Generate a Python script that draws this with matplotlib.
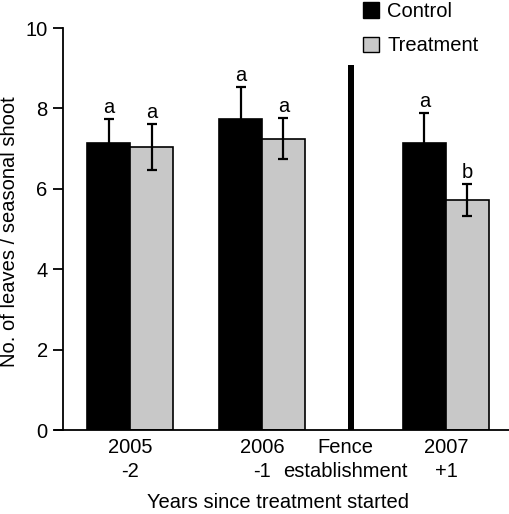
import matplotlib
matplotlib.use("Agg")
import matplotlib.pyplot as plt
from matplotlib.patches import Patch

plt.rcParams['font.family'] = ['Liberation Sans', 'DejaVu Sans']

# Data
groups = ["2005\n-2", "2006\n-1", "2007\n+1"]
group_pos = [1.56, 4.63, 8.91]
control = [7.13, 7.74, 7.13]
control_err = [0.60, 0.79, 0.75]
treatment = [7.04, 7.25, 5.73]
treatment_err = [0.56, 0.50, 0.40]
control_letters = ["a", "a", "a"]
treatment_letters = ["a", "a", "b"]
fence_label = "Fence\nestablishment"
fence_pos = 6.70
fence_label_pos = 6.58
fence_height = 9.08

FS = 14.5
W, H = 510, 514
fig = plt.figure(figsize=(W / 100, H / 100), dpi=100)
ax = fig.add_axes([63 / W, (514 - 430) / H, (510 - 63) / W, (430 - 28) / H])

bw = 1.0
cx = [p - bw / 2 for p in group_pos]
tx = [p + bw / 2 for p in group_pos]
ax.bar(cx, control, width=bw, color="black", edgecolor="black", linewidth=1.2, zorder=2)
ax.bar(tx, treatment, width=bw, color="#c8c8c8", edgecolor="black", linewidth=1.2, zorder=2)
ax.errorbar(cx, control, yerr=control_err, fmt="none", ecolor="black",
            elinewidth=1.6, capsize=3.4, capthick=1.6, zorder=3)
ax.errorbar(tx, treatment, yerr=treatment_err, fmt="none", ecolor="black",
            elinewidth=1.6, capsize=3.4, capthick=1.6, zorder=3)

for x, v, e, t in zip(cx, control, control_err, control_letters):
    ax.text(x, v + e + 0.05, t, ha="center", va="bottom", fontsize=FS)
for x, v, e, t in zip(tx, treatment, treatment_err, treatment_letters):
    ax.text(x, v + e + 0.05, t, ha="center", va="bottom", fontsize=FS)

ax.bar([fence_pos], [fence_height], width=0.14, color="black", zorder=2)

ax.set_xlim(0, 10.4)
ax.set_ylim(0, 10)
ax.set_yticks([0, 2, 4, 6, 8, 10])
ax.set_xticks(group_pos[:2] + [fence_label_pos] + group_pos[2:])
ax.set_xticklabels(groups[:2] + [fence_label] + groups[2:], fontsize=FS, linespacing=1.3)
ax.tick_params(axis="x", length=0, pad=6)
ax.tick_params(axis="y", length=7, width=1.3, labelsize=FS, pad=4)
for s in ["top", "right"]:
    ax.spines[s].set_visible(False)
ax.spines["left"].set_linewidth(1.3)
ax.spines["bottom"].set_linewidth(1.3)
ax.spines["bottom"].set_bounds(-0.19, 10.4)

fig.text(10 / W, 1 - 232 / H, "No. of leaves / seasonal shoot", rotation=90,
         ha="center", va="center", fontsize=FS)
fig.text(278 / W, 1 - 502 / H, "Years since treatment started",
         ha="center", va="center", fontsize=FS)

handles = [Patch(facecolor="black", edgecolor="black", label="Control"),
           Patch(facecolor="#c8c8c8", edgecolor="black", label="Treatment")]
fig.legend(handles=handles, loc="upper left", bbox_to_anchor=(347 / W, 1.0 + 14 / H),
           frameon=False, fontsize=FS, handlelength=0.8, handleheight=0.8,
           handletextpad=0.4, labelspacing=0.75, borderpad=0.3)

fig.savefig("out.png", dpi=100)
